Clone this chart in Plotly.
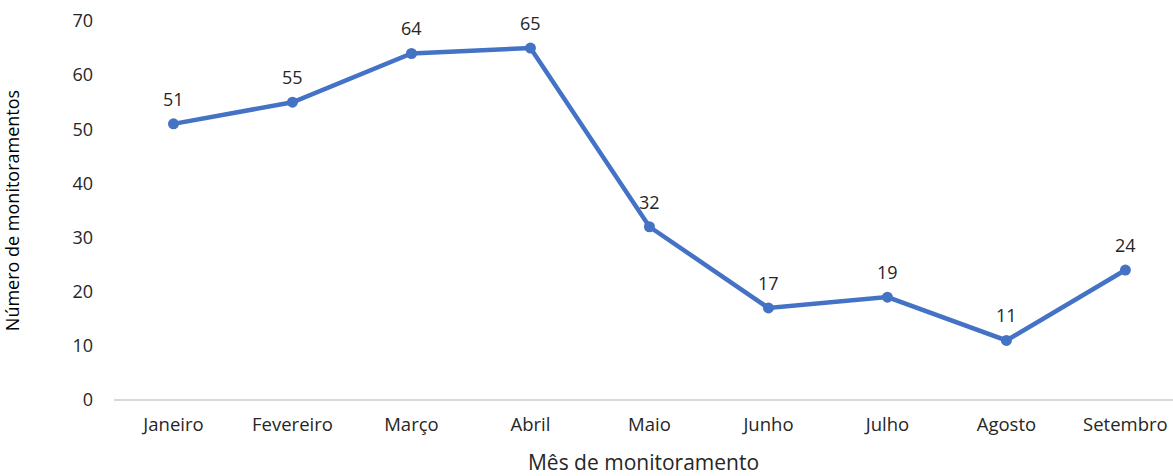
import plotly.graph_objects as go

meses = ["Janeiro", "Fevereiro", "Março", "Abril", "Maio", "Junho", "Julho", "Agosto", "Setembro"]
valores = [51, 55, 64, 65, 32, 17, 19, 11, 24]
y_ticks = [0, 10, 20, 30, 40, 50, 60, 70]

fig = go.Figure()
fig.add_trace(go.Scatter(
    x=meses, y=valores, mode="lines+markers",
    line=dict(color="#4472C4", width=4.5),
    marker=dict(color="#4472C4", size=11),
    cliponaxis=False, showlegend=False,
))
for m, v in zip(meses, valores):
    fig.add_annotation(x=m, y=v, text=str(v), showarrow=False, yshift=25,
                       font=dict(family="Open Sans", size=18, color="#262626"))

fig.update_layout(
    width=1173, height=476,
    margin=dict(l=114, r=0, t=21, b=76),
    paper_bgcolor="white", plot_bgcolor="white",
    font=dict(family="Open Sans", size=18, color="#404040"),
    xaxis=dict(
        range=[-0.5, 8.4], showgrid=False, showline=False, zeroline=False,
        ticks="", tickfont=dict(size=18.5, color="#262626"), automargin=False,
        ticklabelstandoff=11,
        title=dict(text="Mês de monitoramento", font=dict(size=21, color="#262626"), standoff=32),
    ),
    yaxis=dict(
        range=[0, 70], tickvals=y_ticks, showgrid=False, showline=False,
        zeroline=True, zerolinecolor="#D9D9D9", zerolinewidth=1.5,
        ticks="", ticklabelstandoff=20, tickfont=dict(size=18, color="#262626"), automargin=False,
        title=dict(text="Número de monitoramentos", font=dict(size=18, color="black"), standoff=50),
    ),
)

fig.write_html("out.html", config={"displayModeBar": False},
               post_script="document.body.style.margin='0';document.body.style.overflow='hidden';")
